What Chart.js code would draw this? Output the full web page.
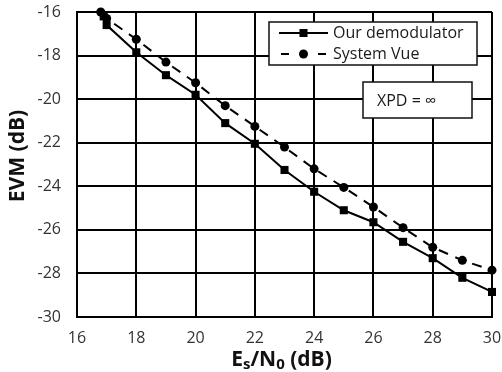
<!DOCTYPE html>
<html>
<head>
<meta charset="utf-8">
<script src="https://cdn.jsdelivr.net/npm/chart.js@4/dist/chart.umd.min.js"></script>
<style>
  html, body { margin: 0; padding: 0; background: #fff; }
  #wrap { width: 502px; height: 372px; }
</style>
</head>
<body>
<div id="wrap"><canvas id="c" width="502" height="372"></canvas></div>
<script>
// EVM versus Es/N0, two receivers
const esn0Demod = [16.9, 17, 18, 19, 20, 21, 22, 23, 24, 25, 26, 27, 28, 29, 30];
const evmDemod  = [-16.2, -16.6, -17.85, -18.9, -19.8, -21.1, -22.05, -23.25, -24.25, -25.1, -25.65, -26.55, -27.3, -28.2, -28.85];
const esn0Vue   = [16.8, 17, 18, 19, 20, 21, 22, 23, 24, 25, 26, 27, 28, 29, 30];
const evmVue    = [-16.0, -16.3, -17.25, -18.3, -19.25, -20.3, -21.25, -22.2, -23.2, -24.05, -24.95, -25.9, -26.8, -27.4, -27.85];
const xTicks = [16, 18, 20, 22, 24, 26, 28, 30];
const yTicks = [-30, -28, -26, -24, -22, -20, -18, -16];
const seriesNames = ['Our demodulator', 'System Vue'];
const noteText = 'XPD = \u221E';

const FONT = "'Open Sans', 'DejaVu Sans', sans-serif";

function toPoints(xs, ys) { return xs.map((x, i) => ({ x: x, y: ys[i] })); }

// Boxed legend drawn inside the plot area, using each dataset's own style
const boxedLegend = {
  id: 'boxedLegend',
  afterDatasetsDraw(chart) {
    const ctx = chart.ctx, a = chart.chartArea;
    const bx = a.left + 192, by = a.top + 10, bw = 208, bh = 43;
    ctx.save();
    ctx.fillStyle = '#fff';
    ctx.fillRect(bx, by, bw, bh);
    ctx.strokeStyle = '#111';
    ctx.lineWidth = 1.5;
    ctx.strokeRect(bx, by, bw, bh);
    chart.data.datasets.forEach((ds, i) => {
      const cy = by + 11 + i * 21;
      const x0 = bx + 10, x1 = bx + 59;
      ctx.strokeStyle = ds.borderColor;
      ctx.lineWidth = ds.borderWidth;
      ctx.beginPath();
      if (ds.borderDash) {
        ctx.moveTo(x0 + 2, cy); ctx.lineTo(x0 + 10, cy);
        ctx.moveTo(x1 - 10, cy); ctx.lineTo(x1 - 2, cy);
      } else {
        ctx.moveTo(x0, cy); ctx.lineTo(x1, cy);
      }
      ctx.stroke();
      const mx = (x0 + x1) / 2;
      ctx.fillStyle = ds.pointBackgroundColor;
      ctx.beginPath();
      if (ds.pointStyle === 'rect') {
        const h = Math.SQRT1_2 * ds.pointRadius;
        ctx.rect(mx - h, cy - h, 2 * h, 2 * h);
      } else {
        ctx.arc(mx, cy, ds.pointRadius, 0, Math.PI * 2);
      }
      ctx.fill();
      ctx.fillStyle = '#1a1a1a';
      ctx.font = '16px ' + FONT;
      ctx.textBaseline = 'middle';
      ctx.textAlign = 'left';
      ctx.fillText(ds.label, x1 + 5, cy);
    });
    // note box
    const nx = a.left + 286, ny = a.top + 70, nw = 109, nh = 36;
    ctx.fillStyle = '#fff';
    ctx.fillRect(nx, ny, nw, nh);
    ctx.strokeStyle = '#111';
    ctx.lineWidth = 1.5;
    ctx.strokeRect(nx, ny, nw, nh);
    ctx.fillStyle = '#1a1a1a';
    ctx.font = '16px ' + FONT;
    ctx.textBaseline = 'middle';
    ctx.fillText(noteText, nx + 14, ny + nh / 2 + 1);
    ctx.restore();
  }
};

// Axis titles (x title carries subscripts)
const axisTitles = {
  id: 'axisTitles',
  afterDraw(chart) {
    const ctx = chart.ctx, a = chart.chartArea;
    ctx.save();
    ctx.fillStyle = '#111';
    ctx.textBaseline = 'alphabetic';
    const big = 'bold 21px ' + FONT, small = 'bold 15px ' + FONT;
    const parts = [['E', big, 0], ['s', small, 3], ['/N', big, 0], ['0', small, 3], [' (dB)', big, 0]];
    let w = 0;
    parts.forEach(p => { ctx.font = p[1]; w += ctx.measureText(p[0]).width; });
    let x = (a.left + a.right) / 2 - 3 - w / 2;
    const base = 366;
    parts.forEach(p => {
      ctx.font = p[1];
      ctx.textAlign = 'left';
      ctx.fillText(p[0], x, base + p[2]);
      x += ctx.measureText(p[0]).width;
    });
    ctx.translate(18, 156);
    ctx.rotate(-Math.PI / 2);
    ctx.font = big;
    ctx.textAlign = 'center';
    ctx.textBaseline = 'middle';
    ctx.fillText('EVM (dB)', 0, 0);
    ctx.restore();
  }
};

function zeroPad(s) { s.paddingTop = 0; s.paddingBottom = 0; s.paddingLeft = 0; s.paddingRight = 0; }

new Chart(document.getElementById('c'), {
  type: 'scatter',
  data: {
    datasets: [
      {
        label: seriesNames[0],
        data: toPoints(esn0Demod, evmDemod),
        showLine: true,
        clip: false,
        borderColor: '#000',
        borderWidth: 2,
        pointStyle: 'rect',
        pointRadius: 5.7,
        pointBackgroundColor: '#000',
        pointBorderColor: '#000',
        pointBorderWidth: 0
      },
      {
        label: seriesNames[1],
        data: toPoints(esn0Vue, evmVue),
        showLine: true,
        clip: false,
        borderColor: '#000',
        borderWidth: 2,
        borderDash: [10, 8],
        pointStyle: 'circle',
        pointRadius: 4.5,
        pointBackgroundColor: '#000',
        pointBorderColor: '#000',
        pointBorderWidth: 0
      }
    ]
  },
  options: {
    responsive: false,
    animation: false,
    events: [],
    layout: { autoPadding: false, padding: { top: 12, right: 10, left: 0, bottom: 0 } },
    plugins: { legend: { display: false }, tooltip: { enabled: false } },
    scales: {
      x: {
        type: 'linear',
        min: xTicks[0], max: xTicks[xTicks.length - 1],
        afterBuildTicks(s) { s.ticks = xTicks.map(v => ({ value: v })); },
        afterFit(s) { s.height = 55; zeroPad(s); },
        grid: { color: '#000', lineWidth: 2, drawTicks: false },
        border: { color: '#000', width: 2 },
        ticks: { color: '#333', font: { family: FONT, size: 16 }, padding: 12, maxRotation: 0 }
      },
      y: {
        type: 'linear',
        min: yTicks[0], max: yTicks[yTicks.length - 1],
        afterBuildTicks(s) { s.ticks = yTicks.map(v => ({ value: v })); },
        afterFit(s) { s.width = 77; zeroPad(s); },
        grid: { color: '#000', lineWidth: 2, drawTicks: false },
        border: { color: '#000', width: 2 },
        ticks: { color: '#333', font: { family: FONT, size: 16 }, padding: 16 }
      }
    }
  },
  plugins: [boxedLegend, axisTitles]
});
</script>
</body>
</html>
